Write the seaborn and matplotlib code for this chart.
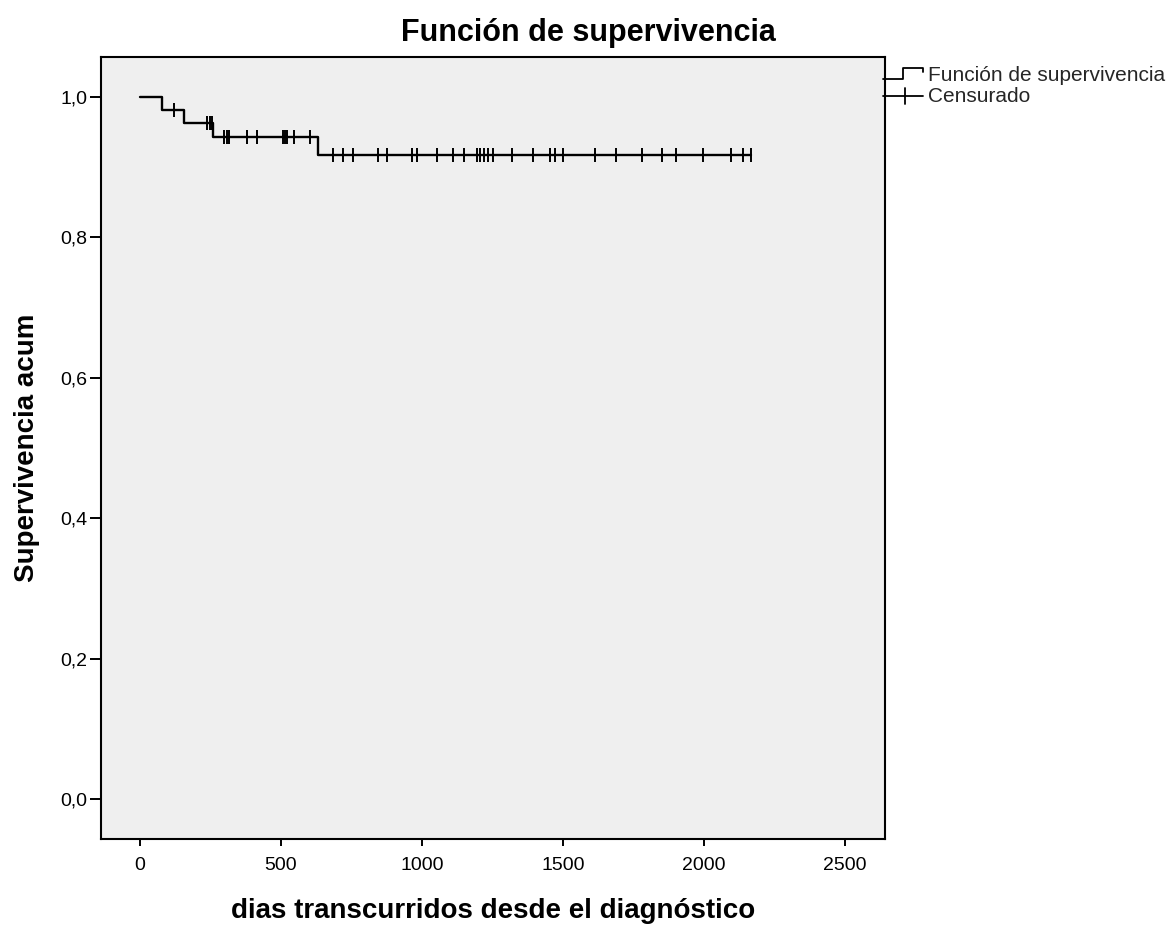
import numpy as np
import pandas as pd
import matplotlib
matplotlib.use("Agg")
import matplotlib.pyplot as plt
import seaborn as sns
from matplotlib.legend_handler import HandlerBase
from matplotlib.lines import Line2D

# ---- data ----
step_times = [0, 77, 156, 260, 632]
step_surv = [1.0, 0.982, 0.963, 0.943, 0.917]
end_time = 2165
censor_times = [122, 239, 248, 255, 298, 307, 316, 381, 414, 506, 514, 522, 547,
                603, 683, 719, 754, 845, 875, 963, 981, 1054, 1111, 1149, 1194,
                1206, 1220, 1235, 1253, 1318, 1395, 1454, 1472, 1499, 1613, 1688,
                1779, 1850, 1901, 1995, 2094, 2139, 2165]
x_ticks = [0, 500, 1000, 1500, 2000, 2500]
y_ticks = [0.0, 0.2, 0.4, 0.6, 0.8, 1.0]
y_tick_labels = ["0,0", "0,2", "0,4", "0,6", "0,8", "1,0"]
title = "Función de supervivencia"
xlabel = "dias transcurridos desde el diagnóstico"
ylabel = "Supervivencia acum"
legend_labels = ["Función de supervivencia", "Censurado"]

sns.set_theme(style="white")
plt.rcParams["font.family"] = ["Liberation Sans", "DejaVu Sans"]

curve = pd.DataFrame({"t": step_times + [end_time],
                      "s": step_surv + [step_surv[-1]]})
idx = np.searchsorted(step_times, censor_times, side="right") - 1
censor = pd.DataFrame({"t": censor_times,
                       "s": np.array(step_surv)[idx]})

fig = plt.figure(figsize=(11.76, 9.27), dpi=100, facecolor="white")
ax = fig.add_axes([101/1176, 1-839/927, (885-101)/1176, (839-57)/927])
ax.set_facecolor("#efefef")

sns.lineplot(data=curve, x="t", y="s", drawstyle="steps-post", color="black",
             lw=1.7, ax=ax, legend=False, sort=True, estimator=None)
sns.scatterplot(data=censor, x="t", y="s", marker="|", s=95, color="black",
                linewidth=1.4, ax=ax, legend=False)

ax.set_xlim(-138.3, 2641.8)
ax.set_ylim(-0.057, 1.057)
ax.set_xticks(x_ticks)
ax.set_xticklabels([str(v) for v in x_ticks])
ax.set_yticks(y_ticks)
ax.set_yticklabels(y_tick_labels)
ax.tick_params(axis="x", direction="out", length=5, width=1.4, pad=8,
               labelsize=14, colors="black", bottom=True)
ax.tick_params(axis="y", direction="out", length=8, width=1.4, pad=2,
               labelsize=14, colors="black", left=True)
for sp in ax.spines.values():
    sp.set_color("black")
    sp.set_linewidth(1.5)

ax.set_xlabel(xlabel, fontsize=20, fontweight="bold", color="black")
ax.set_ylabel(ylabel, fontsize=20, fontweight="bold", color="black")
ax.xaxis.set_label_coords(0.5, (839-911)/782)
ax.xaxis.label.set_va("center")
ax.yaxis.set_label_coords((27-101)/784, 0.5)
ax.yaxis.label.set_va("center")

fig.text(0.5, 1-33/927, title, ha="center", va="center", fontsize=22,
         fontweight="bold", color="black")


class StepHandler(HandlerBase):
    def create_artists(self, legend, orig, xd, yd, w, h, fs, trans):
        xs = np.array([0, 0.51, 0.51, 1.0, 1.0]) * w - xd
        ys = np.array([0.15, 0.15, 0.9, 0.9, 0.6]) * h - yd
        return [Line2D(xs, ys, color="black", lw=1.3, transform=trans)]


class CensorHandler(HandlerBase):
    def create_artists(self, legend, orig, xd, yd, w, h, fs, trans):
        l1 = Line2D([-xd, w - xd], [0.4 * h - yd] * 2, color="black", lw=1.3,
                    transform=trans)
        l2 = Line2D([0.56 * w - xd] * 2, [-0.15 * h - yd, 0.95 * h - yd],
                    color="black", lw=1.3, transform=trans)
        return [l1, l2]


h1 = Line2D([], [])
h2 = Line2D([], [])
leg = fig.legend([h1, h2], legend_labels,
                 handler_map={h1: StepHandler(), h2: CensorHandler()},
                 loc="upper left", bbox_to_anchor=(883/1176, 1-66/927),
                 bbox_transform=fig.transFigure, frameon=False,
                 borderpad=0, borderaxespad=0, handlelength=1.9,
                 handletextpad=0.24, labelspacing=0.08, fontsize=15)

fig.savefig("out.png", dpi=100, facecolor="white")
